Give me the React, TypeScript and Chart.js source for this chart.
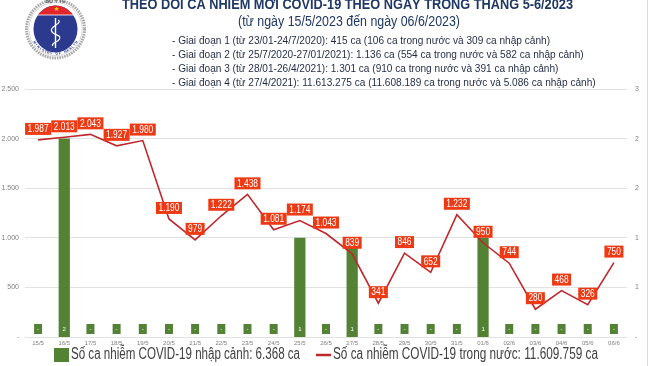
import React, { useEffect, useRef } from 'react';
import { Chart, registerables } from 'chart.js';

Chart.register(...registerables);

// ---------------- data ----------------
const categories = ['15/5', '16/5', '17/5', '18/5', '19/5', '20/5', '21/5', '22/5', '23/5', '24/5', '25/5', '26/5', '27/5', '28/5', '29/5', '30/5', '31/5', '01/6', '02/6', '03/6', '04/6', '05/6', '06/6'];
const domesticCases = [1987, 2013, 2043, 1927, 1980, 1190, 979, 1222, 1438, 1081, 1174, 1043, 839, 341, 846, 652, 1232, 950, 744, 280, 468, 326, 750];
const importedCases = [0, 2, 0, 0, 0, 0, 0, 0, 0, 0, 1, 0, 1, 0, 0, 0, 0, 1, 0, 0, 0, 0, 0];
const leftTicks = [0, 500, 1000, 1500, 2000, 2500];
const rightTicks = [0, 0.5, 1, 1.5, 2, 2.5];

const titleText = 'THEO DÕI CA NHIỄM MỚI COVID-19 THEO NGÀY TRONG THÁNG 5-6/2023';
const subtitleText = '(từ ngày 15/5/2023 đến ngày 06/6/2023)';
const phaseLines = [
  '- Giai đoạn 1 (từ 23/01-24/7/2020): 415 ca (106 ca trong nước và 309 ca nhập cảnh)',
  '- Giai đoạn 2 (từ 25/7/2020-27/01/2021): 1.136 ca (554 ca trong nước và 582 ca nhập cảnh)',
  '- Giai đoạn 3 (từ 28/01-26/4/2021): 1.301 ca (910 ca trong nước và 391 ca nhập cảnh)',
  '- Giai đoạn 4 (từ 27/4/2021): 11.613.275 ca (11.608.189 ca trong nước và 5.086 ca nhập cảnh)',
];
const legendImported = 'Số ca nhiễm COVID-19 nhập cảnh: 6.368 ca';
const legendDomestic = 'Số ca nhiễm COVID-19 trong nước: 11.609.759 ca';

// ---------------- styles ----------------
const SANS = '"Liberation Sans", Arial, sans-serif';
const GREEN = '#548235';
const LINE_RED = '#C0272D';
const LABEL_BG = '#EE3A14';
const NAVY = '#1F3864';

const fmtThousands = (v: number) => String(v).replace(/\B(?=(\d{3})+(?!\d))/g, '.');

// draws text squeezed horizontally so that it spans the given width (the source uses a narrow face)
function drawFitText(ctx: CanvasRenderingContext2D, text: string, x: number, y: number, font: string, color: string, align: CanvasTextAlign, width?: number, scale?: number) {
  ctx.save();
  ctx.font = font;
  const w = ctx.measureText(text).width;
  const sx = scale !== undefined ? scale : (width as number) / w;
  ctx.translate(x, y);
  ctx.scale(sx, 1);
  ctx.textAlign = align;
  ctx.fillStyle = color;
  ctx.fillText(text, 0, 0);
  ctx.restore();
  return sx;
}

function drawStar(ctx: CanvasRenderingContext2D, cx: number, cy: number, r: number, ri: number, color: string) {
  ctx.beginPath();
  for (let i = 0; i < 10; i++) {
    const a = -Math.PI / 2 + (i * Math.PI) / 5;
    const rr = i % 2 === 0 ? r : ri;
    const x = cx + rr * Math.cos(a);
    const y = cy + rr * Math.sin(a);
    if (i === 0) ctx.moveTo(x, y);
    else ctx.lineTo(x, y);
  }
  ctx.closePath();
  ctx.fillStyle = color;
  ctx.fill();
}

function drawLogo(ctx: CanvasRenderingContext2D) {
  const cx = 55.5;
  const cy = 29;
  ctx.save();
  ctx.strokeStyle = '#A9A9A9';
  ctx.lineWidth = 3;
  ctx.setLineDash([1.6, 0.9]);
  ctx.beginPath();
  ctx.arc(cx, cy, 29, 0, Math.PI * 2);
  ctx.stroke();
  ctx.setLineDash([]);
  ctx.strokeStyle = '#C9C9C9';
  ctx.lineWidth = 0.8;
  ctx.beginPath();
  ctx.arc(cx, cy, 26.6, 0, Math.PI * 2);
  ctx.stroke();
  ctx.beginPath();
  ctx.arc(cx, cy, 26, 0, Math.PI * 2);
  ctx.fillStyle = '#FFFFFF';
  ctx.fill();
  ctx.beginPath();
  ctx.ellipse(cx, cy, 22, 23.5, 0, 0, Math.PI * 2);
  ctx.fillStyle = '#2B3A8F';
  ctx.fill();
  ctx.save();
  ctx.clip();
  ctx.fillStyle = '#E3262B';
  ctx.fillRect(cx - 25, 0, 50, 15);
  ctx.restore();
  ctx.strokeStyle = '#FFFFFF';
  ctx.lineWidth = 0.8;
  ctx.beginPath();
  ctx.moveTo(cx - 20, 15);
  ctx.lineTo(cx + 20, 15);
  ctx.stroke();
  drawStar(ctx, cx + 1, 9, 2.6, 1.1, '#FFD200');
  ctx.strokeStyle = '#FFFFFF';
  ctx.lineWidth = 1.4;
  ctx.beginPath();
  ctx.moveTo(cx, 18);
  ctx.lineTo(cx, 48);
  ctx.stroke();
  ctx.lineWidth = 1.2;
  ctx.beginPath();
  ctx.moveTo(cx + 3, 20);
  ctx.bezierCurveTo(cx + 7, 24, cx - 6, 26, cx - 4, 31);
  ctx.bezierCurveTo(cx - 2, 36, cx + 6, 34, cx + 4, 39);
  ctx.bezierCurveTo(cx + 2, 43, cx - 4, 42, cx - 3, 46);
  ctx.stroke();
  ctx.fillStyle = '#2B3A8F';
  ctx.font = 'bold 3.6px ' + SANS;
  ctx.textAlign = 'center';
  ctx.textBaseline = 'middle';
  const bottomText = 'MINISTRY OF HEALTH';
  const span = 2.0;
  for (let i = 0; i < bottomText.length; i++) {
    const a = Math.PI / 2 + span / 2 - (i * span) / (bottomText.length - 1);
    const x = cx + 24.8 * Math.cos(a);
    const y = cy + 24.8 * Math.sin(a);
    ctx.save();
    ctx.translate(x, y);
    ctx.rotate(a - Math.PI / 2);
    ctx.fillText(bottomText[i], 0, 0);
    ctx.restore();
  }
  ctx.fillStyle = '#5A5A5A';
  ctx.font = 'bold 5px ' + SANS;
  ctx.fillText('BỘ Y TẾ', cx, 1.5);
  ctx.restore();
}

const headerPlugin = {
  id: 'header',
  beforeDraw(chart: any) {
    const ctx: CanvasRenderingContext2D = chart.ctx;
    ctx.save();
    ctx.fillStyle = '#FFFFFF';
    ctx.fillRect(0, 0, chart.width, chart.height);
    ctx.strokeStyle = '#D9D9D9';
    ctx.lineWidth = 1;
    ctx.beginPath();
    ctx.moveTo(647.5, 0);
    ctx.lineTo(647.5, chart.height);
    ctx.stroke();
    drawLogo(ctx);
    ctx.textBaseline = 'alphabetic';
    drawFitText(ctx, titleText, 347.5, 8.5, 'bold 14px ' + SANS, NAVY, 'center', 451);
    drawFitText(ctx, subtitleText, 349, 26, '14px ' + SANS, NAVY, 'center', 222);
    const sx = drawFitText(ctx, phaseLines[0], 172, 44, '11px ' + SANS, '#1F2A44', 'left', 378);
    phaseLines.slice(1).forEach((t, i) => drawFitText(ctx, t, 172, 58 + i * 14, '11px ' + SANS, '#1F2A44', 'left', undefined, sx));
    ctx.restore();
  },
  afterDraw(chart: any) {
    // legend (drawn here so the narrow face of the source can be imitated)
    const ctx: CanvasRenderingContext2D = chart.ctx;
    ctx.save();
    ctx.textBaseline = 'middle';
    const cy = 355;
    ctx.fillStyle = GREEN;
    ctx.fillRect(54, cy - 7, 15, 14);
    drawFitText(ctx, legendImported, 71, cy, '16px ' + SANS, '#404040', 'left', 229);
    ctx.strokeStyle = LINE_RED;
    ctx.lineWidth = 2.5;
    ctx.beginPath();
    ctx.moveTo(316, cy);
    ctx.lineTo(331, cy);
    ctx.stroke();
    drawFitText(ctx, legendDomestic, 333, cy, '16px ' + SANS, '#404040', 'left', 265);
    ctx.restore();
  },
};

const labelPlugin = {
  id: 'valueLabels',
  afterDatasetsDraw(chart: any) {
    const ctx: CanvasRenderingContext2D = chart.ctx;
    ctx.save();
    ctx.textAlign = 'center';
    ctx.textBaseline = 'middle';
    const barMeta = chart.getDatasetMeta(1);
    const yBase = chart.scales.y2.getPixelForValue(0);
    ctx.font = '6px ' + SANS;
    barMeta.data.forEach((el: any, i: number) => {
      const v = importedCases[i];
      const w = 8;
      const h = 10;
      const top = yBase - 3 - h;
      ctx.fillStyle = GREEN;
      ctx.fillRect(el.x - w / 2, top, w, h);
      ctx.fillStyle = '#FFFFFF';
      ctx.fillText(v === 0 ? '-' : String(v), el.x, top + h / 2);
    });
    const lineMeta = chart.getDatasetMeta(0);
    const font = '10px ' + SANS;
    const sx = 0.84;
    ctx.font = font;
    lineMeta.data.forEach((pt: any, i: number) => {
      const text = fmtThousands(domesticCases[i]);
      const tw = ctx.measureText(text).width * sx;
      const bw = tw + 5;
      const bh = 12;
      const cy = pt.y - 11;
      ctx.fillStyle = LABEL_BG;
      ctx.fillRect(pt.x - bw / 2, cy - bh / 2, bw, bh);
      drawFitText(ctx, text, pt.x, cy + 0.5, font, '#FFFFFF', 'center', undefined, sx);
    });
    ctx.restore();
  },
};

export default function App() {
  const canvasRef = useRef<HTMLCanvasElement | null>(null);

  useEffect(() => {
    document.body.style.margin = '0';
    const canvas = canvasRef.current;
    if (!canvas) return;
    const chart = new Chart(canvas, {
      type: 'bar',
      data: {
        labels: categories,
        datasets: [
          {
            type: 'line',
            label: legendDomestic,
            data: domesticCases,
            yAxisID: 'y',
            borderColor: LINE_RED,
            backgroundColor: LINE_RED,
            borderWidth: 1.6,
            pointRadius: 0,
            tension: 0,
            order: 0,
          },
          {
            type: 'bar',
            label: legendImported,
            data: importedCases,
            yAxisID: 'y2',
            backgroundColor: GREEN,
            categoryPercentage: 1,
            barPercentage: 0.43,
            order: 1,
          },
        ],
      } as any,
      options: {
        responsive: true,
        maintainAspectRatio: false,
        animation: false,
        layout: { padding: { top: 89, left: 0, right: 0, bottom: 15 }, autoPadding: false },
        plugins: {
          tooltip: { enabled: false },
          title: { display: false },
          legend: { display: false },
        },
        scales: {
          x: {
            grid: { display: false, drawTicks: false },
            border: { display: false },
            offset: true,
            ticks: { color: '#7F7F7F', font: { size: 6, family: SANS }, padding: 3, maxRotation: 0, autoSkip: false },
            afterFit: (s: any) => { s.height = 14; },
          },
          y: {
            position: 'left',
            min: leftTicks[0],
            max: leftTicks[leftTicks.length - 1],
            ticks: {
              stepSize: leftTicks[1] - leftTicks[0],
              color: '#7F7F7F',
              font: { size: 7, family: SANS },
              padding: 6,
              callback: (v: any) => (Number(v) === 0 ? '-' : fmtThousands(Number(v))),
            },
            grid: { color: '#E2E2E2', lineWidth: 1, drawTicks: false },
            border: { display: false },
            afterFit: (s: any) => { s.width = 25; },
          },
          y2: {
            position: 'right',
            min: rightTicks[0],
            max: rightTicks[rightTicks.length - 1],
            ticks: {
              stepSize: rightTicks[1] - rightTicks[0],
              color: '#7F7F7F',
              font: { size: 7, family: SANS },
              padding: 8,
              callback: (v: any) => (Number(v) === 0 ? '-' : String(Math.round(Number(v)))),
            },
            grid: { display: false, drawTicks: false },
            border: { display: false },
            afterFit: (s: any) => { s.width = 23; },
          },
        },
      } as any,
      plugins: [headerPlugin, labelPlugin],
    });
    return () => chart.destroy();
  }, []);

  return (
    <div style={{ position: 'relative', width: 650, height: 366 }}>
      <canvas ref={canvasRef} />
    </div>
  );
}
